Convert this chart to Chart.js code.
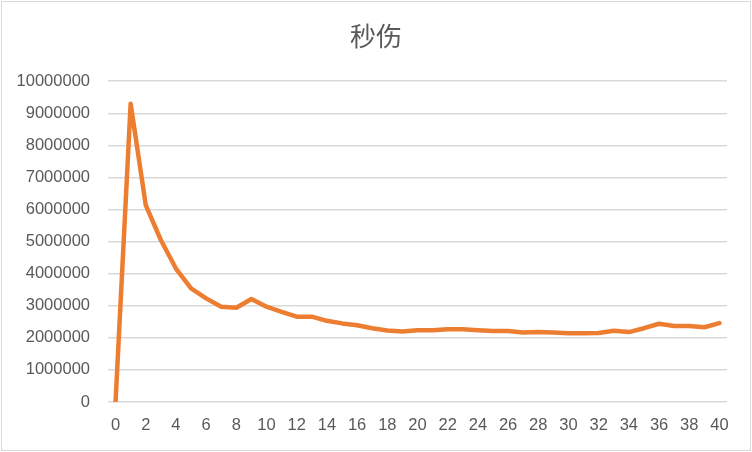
<!DOCTYPE html>
<html>
<head>
<meta charset="utf-8">
<script src="https://cdn.jsdelivr.net/npm/chart.js@4/dist/chart.umd.min.js"></script>
<style>
html,body{margin:0;padding:0;background:#fff;}
#wrap{position:relative;width:752px;height:452px;}
</style>
</head>
<body>
<div id="wrap"><canvas id="c"></canvas></div>
<script>
const chartTitle = '秒伤';
const categories = [0,1,2,3,4,5,6,7,8,9,10,11,12,13,14,15,16,17,18,19,20,21,22,23,24,25,26,27,28,29,30,31,32,33,34,35,36,37,38,39,40];
const dpsValues = [0,9300000,6140000,5050000,4160000,3540000,3230000,2970000,2940000,3210000,2970000,2810000,2660000,2660000,2530000,2450000,2390000,2300000,2230000,2200000,2240000,2240000,2270000,2270000,2240000,2210000,2210000,2170000,2180000,2170000,2140000,2140000,2150000,2220000,2180000,2300000,2440000,2370000,2370000,2330000,2460000];
const yTicks = [0,1000000,2000000,3000000,4000000,5000000,6000000,7000000,8000000,9000000,10000000];

const borderPlugin = {
  id: 'outerBorder',
  afterDraw(chart) {
    const ctx = chart.ctx;
    ctx.save();
    ctx.strokeStyle = '#d9d9d9';
    ctx.lineWidth = 1;
    ctx.strokeRect(1.5, 1.5, chart.width - 3, chart.height - 3);
    ctx.restore();
  }
};

new Chart(document.getElementById('c'), {
  type: 'line',
  data: {
    labels: categories,
    datasets: [{
      data: dpsValues,
      yAxisID: 'y',
      borderColor: '#ED7D31',
      borderWidth: 4.5,
      pointRadius: 0,
      tension: 0,
      fill: false,
      borderJoinStyle: 'round',
      borderCapStyle: 'round'
    }]
  },
  options: {
    responsive: true,
    maintainAspectRatio: false,
    animation: false,
    devicePixelRatio: 1,
    layout: { padding: { left: 0, right: 0, top: 0, bottom: 0 } },
    plugins: {
      legend: { display: false },
      tooltip: { enabled: false },
      title: {
        display: true,
        text: chartTitle,
        color: '#595959',
        font: { family: '"Noto Sans CJK SC", sans-serif', size: 26, weight: 'normal' },
        padding: { top: 21, bottom: 29 }
      }
    },
    scales: {
      x: {
        type: 'category',
        offset: true,
        grid: { display: false, drawTicks: false },
        border: { display: false },
        ticks: {
          autoSkip: false,
          maxRotation: 0,
          padding: 14,
          color: '#595959',
          font: { family: '"Liberation Sans", sans-serif', size: 16.5 },
          callback: function(v, i) { return i % 2 === 0 ? this.getLabelForValue(v) : ''; }
        },
        afterFit(scale) { scale.height = 50; }
      },
      y: {
        position: 'left',
        min: 0,
        max: 10000000,
        afterBuildTicks(scale) { scale.ticks = yTicks.map(v => ({ value: v })); },
        grid: { color: '#d9d9d9', lineWidth: 1.5, drawTicks: false },
        border: { display: false },
        ticks: {
          padding: 18,
          color: '#595959',
          font: { family: '"Liberation Sans", sans-serif', size: 16.5 },
          callback: v => String(v)
        },
        afterFit(scale) { scale.width = 108; }
      },
      yRight: {
        position: 'right',
        min: 0,
        max: 10000000,
        grid: { display: false, drawTicks: false },
        border: { display: false },
        ticks: { display: false },
        afterFit(scale) { scale.width = 25; }
      }
    }
  },
  plugins: [borderPlugin]
});
</script>
</body>
</html>
